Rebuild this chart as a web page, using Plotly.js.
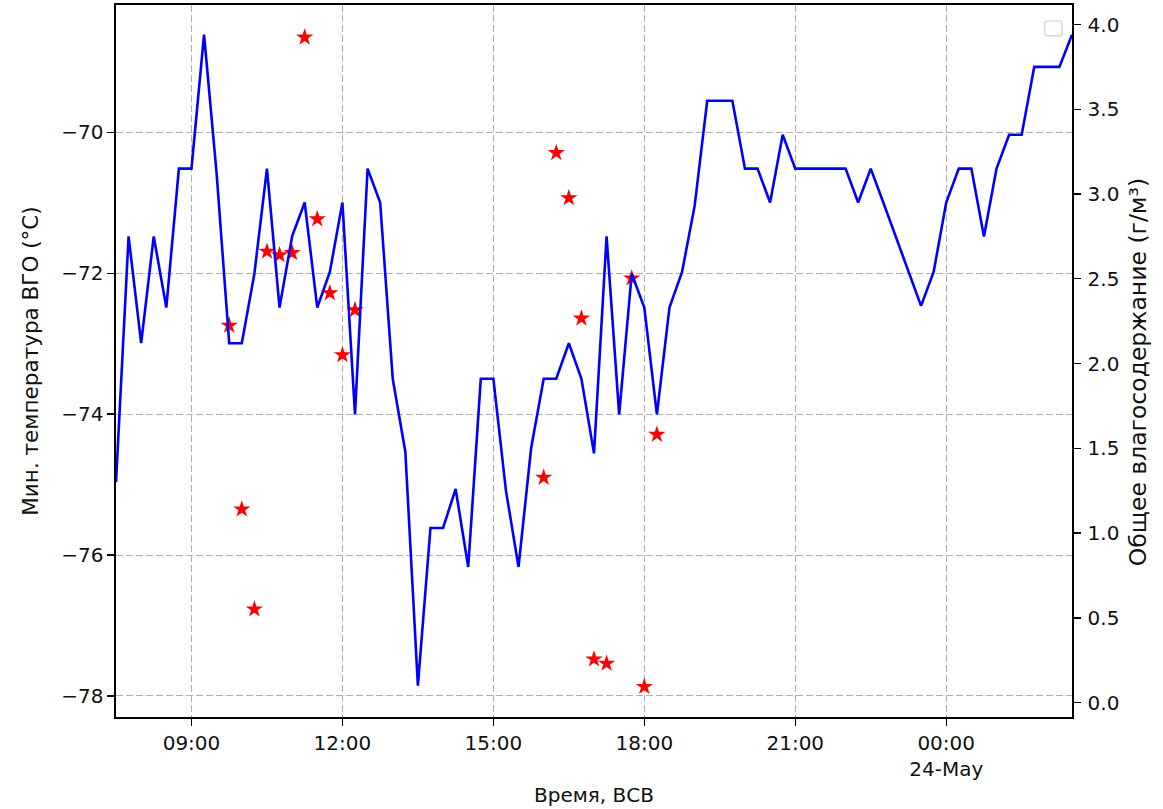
<!DOCTYPE html>
<html>
<head>
<meta charset="utf-8">
<script src="https://cdn.plot.ly/plotly-3.0.1.min.js"></script>
<style>html,body{margin:0;padding:0;background:#fff;}</style>
</head>
<body>
<div id="chart" style="width:1163px;height:809px;"></div>
<script>
// Time stamps (15-minute records)
const times = [
  '2023-05-23 07:30','2023-05-23 07:45','2023-05-23 08:00','2023-05-23 08:15','2023-05-23 08:30','2023-05-23 08:45',
  '2023-05-23 09:00','2023-05-23 09:15','2023-05-23 09:30','2023-05-23 09:45','2023-05-23 10:00','2023-05-23 10:15',
  '2023-05-23 10:30','2023-05-23 10:45','2023-05-23 11:00','2023-05-23 11:15','2023-05-23 11:30','2023-05-23 11:45',
  '2023-05-23 12:00','2023-05-23 12:15','2023-05-23 12:30','2023-05-23 12:45','2023-05-23 13:00','2023-05-23 13:15',
  '2023-05-23 13:30','2023-05-23 13:45','2023-05-23 14:00','2023-05-23 14:15','2023-05-23 14:30','2023-05-23 14:45',
  '2023-05-23 15:00','2023-05-23 15:15','2023-05-23 15:30','2023-05-23 15:45','2023-05-23 16:00','2023-05-23 16:15',
  '2023-05-23 16:30','2023-05-23 16:45','2023-05-23 17:00','2023-05-23 17:15','2023-05-23 17:30','2023-05-23 17:45',
  '2023-05-23 18:00','2023-05-23 18:15','2023-05-23 18:30','2023-05-23 18:45','2023-05-23 19:00','2023-05-23 19:15',
  '2023-05-23 19:30','2023-05-23 19:45','2023-05-23 20:00','2023-05-23 20:15','2023-05-23 20:30','2023-05-23 20:45',
  '2023-05-23 21:00','2023-05-23 21:15','2023-05-23 21:30','2023-05-23 21:45','2023-05-23 22:00','2023-05-23 22:15',
  '2023-05-23 22:30','2023-05-23 22:45','2023-05-23 23:00','2023-05-23 23:15','2023-05-23 23:30','2023-05-23 23:45',
  '2023-05-24 00:00','2023-05-24 00:15','2023-05-24 00:30','2023-05-24 00:45','2023-05-24 01:00','2023-05-24 01:15',
  '2023-05-24 01:30','2023-05-24 01:45','2023-05-24 02:00','2023-05-24 02:15','2023-05-24 02:30'
];

// Total water vapour content, g/m^3 (right axis)
const moisture = [
  1.30, 2.75, 2.12, 2.75, 2.33, 3.15,
  3.15, 3.94, 3.12, 2.12, 2.12, 2.53,
  3.15, 2.33, 2.75, 2.95, 2.33, 2.54,
  2.95, 1.70, 3.15, 2.95, 1.91, 1.48,
  0.10, 1.03, 1.03, 1.26, 0.80, 1.91,
  1.91, 1.25, 0.80, 1.50, 1.91, 1.91,
  2.12, 1.91, 1.47, 2.75, 1.70, 2.53,
  2.33, 1.70, 2.33, 2.54, 2.93, 3.55,
  3.55, 3.55, 3.15, 3.15, 2.95, 3.35,
  3.15, 3.15, 3.15, 3.15, 3.15, 2.95,
  3.15, 2.95, 2.75, 2.54, 2.34, 2.54,
  2.95, 3.15, 3.15, 2.75, 3.15, 3.35,
  3.35, 3.75, 3.75, 3.75, 3.94
];

// Minimum UTLS temperature, deg C (left axis)
const starTimes = [
  '2023-05-23 09:45','2023-05-23 10:00','2023-05-23 10:15','2023-05-23 10:30','2023-05-23 10:45',
  '2023-05-23 11:00','2023-05-23 11:15','2023-05-23 11:30','2023-05-23 11:45','2023-05-23 12:00',
  '2023-05-23 12:15','2023-05-23 16:00','2023-05-23 16:15','2023-05-23 16:30','2023-05-23 16:45',
  '2023-05-23 17:00','2023-05-23 17:15','2023-05-23 17:45','2023-05-23 18:00','2023-05-23 18:15'
];
const minTemp = [
  -72.74, -75.35, -76.77, -71.69, -71.74,
  -71.71, -68.65, -71.23, -72.28, -73.16,
  -72.52, -74.90, -70.29, -70.93, -72.64,
  -77.48, -77.54, -72.07, -77.87, -74.29
];

const xTickVals = ['2023-05-23 09:00','2023-05-23 12:00','2023-05-23 15:00','2023-05-23 18:00','2023-05-23 21:00','2023-05-24 00:00'];
const xTickText = ['09:00','12:00','15:00','18:00','21:00','00:00<br>24-May'];

const FONT = 'DejaVu Sans, sans-serif';
const TXT = '#111111';

const traces = [
  {
    x: starTimes, y: minTemp, type: 'scatter', mode: 'markers', yaxis: 'y',
    marker: {symbol: 'star', size: 13, color: '#ff0000', line: {width: 0}},
    showlegend: false
  },
  {
    x: times, y: moisture, type: 'scatter', mode: 'lines', yaxis: 'y2',
    line: {color: '#0000ff', width: 2.6},
    showlegend: false
  }
];

const axisCommon = {
  showline: true, linecolor: '#000', linewidth: 1.6,
  ticks: 'outside', ticklen: 7, tickwidth: 1.4, tickcolor: '#000',
  tickfont: {family: FONT, size: 20, color: TXT},
  zeroline: false
};

const layout = {
  width: 1163, height: 809,
  margin: {l: 116, r: 91, t: 5, b: 92, pad: 0},
  paper_bgcolor: '#fff', plot_bgcolor: '#fff',
  font: {family: FONT, size: 20, color: TXT},
  showlegend: false,
  xaxis: Object.assign({}, axisCommon, {
    type: 'date',
    range: [times[0], times[times.length - 1]],
    tickmode: 'array', tickvals: xTickVals, ticktext: xTickText,
    showgrid: true, gridcolor: '#b0b0b0', gridwidth: 1, griddash: '7px,3px',
    mirror: true,
    title: {text: 'Время, ВСВ', font: {family: FONT, size: 20, color: TXT}, standoff: 8}
  }),
  yaxis: Object.assign({}, axisCommon, {
    range: [-78.3, -68.19],
    tick0: 0, dtick: 2,
    showgrid: true, gridcolor: '#b0b0b0', gridwidth: 1, griddash: '7px,3px',
    mirror: true,
    title: {text: 'Мин. температура ВГО (°C)', font: {family: FONT, size: 21.5, color: TXT}, standoff: 16}
  }),
  yaxis2: Object.assign({}, axisCommon, {
    overlaying: 'y', side: 'right',
    range: [-0.085, 4.115],
    tick0: 0, dtick: 0.5, tickformat: '.1f',
    ticklabelstandoff: 3,
    showgrid: false
  }),
  annotations: [
    {
      text: 'Общее влагосодержание (г/м³)',
      xref: 'paper', yref: 'paper',
      x: 1.0685, y: 0.485, xanchor: 'center', yanchor: 'middle',
      textangle: -90, showarrow: false,
      font: {family: FONT, size: 23.5, color: TXT}
    }
  ],
  shapes: [
    {
      type: 'path', xref: 'paper', yref: 'paper',
      path: 'M 0.9745 0.9775 L 0.9865 0.9775 Q 0.9895 0.9775 0.9895 0.9735 L 0.9895 0.9605 Q 0.9895 0.9565 0.9865 0.9565 L 0.9745 0.9565 Q 0.9715 0.9565 0.9715 0.9605 L 0.9715 0.9735 Q 0.9715 0.9775 0.9745 0.9775 Z',
      line: {color: '#d0d0d0', width: 1.2}, fillcolor: 'rgba(255,255,255,0.8)'
    }
  ]
};

Plotly.newPlot('chart', traces, layout, {staticPlot: true, displayModeBar: false});
</script>
</body>
</html>
